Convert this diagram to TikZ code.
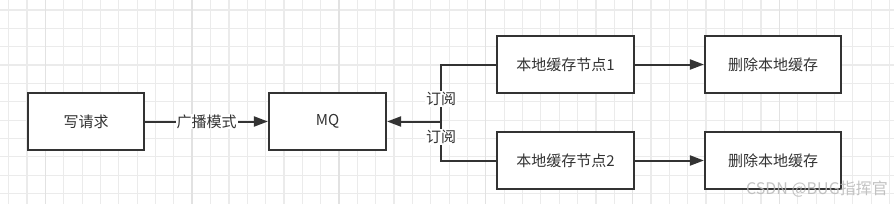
\documentclass[tikz,border=0pt]{standalone}
\usepackage{fontspec}
\newfontfamily\cjk{Noto Sans CJK SC}
\usetikzlibrary{arrows.meta}
\definecolor{ink}{HTML}{333333}
\definecolor{gridminor}{HTML}{EBEBEB}
\definecolor{gridmajor}{HTML}{E2E2E2}
\definecolor{wmark}{HTML}{B8B8B8}
\tikzset{
  box/.style={draw=ink, line width=2.2pt, fill=white, minimum height=57pt, inner sep=0pt, text=ink, font=\cjk\fontsize{15}{18}\selectfont},
  conn/.style={draw=ink, line width=2pt},
  arr/.style={conn, -{Triangle[length=14pt,width=10pt]}},
  lbl/.style={fill=white, text=ink, inner sep=1pt, font=\cjk\fontsize{15}{18}\selectfont},
  gridl/.style={draw=gridminor, line width=1.2pt},
  gridM/.style={draw=gridmajor, line width=1.3pt}
}
\begin{document}
\begin{tikzpicture}[x=1pt,y=-1pt]
\useasboundingbox (0,0) rectangle (894,204);
\fill[white] (0,0) rectangle (894,204);
% grid
\foreach \i in {0,...,48} {
  \draw[gridl] ({8.7+18.35*\i},0) -- ({8.7+18.35*\i},204);
}
\foreach \j in {0,...,10} {
  \draw[gridl] (0,{10+18.35*\j}) -- (894,{10+18.35*\j});
}
\foreach \i in {0,...,6} {
  \draw[gridM] ({45.3+146.8*\i},0) -- ({45.3+146.8*\i},204);
}
% nodes
\node[box, minimum width=116pt] (req) at (86,121.5) {写请求};
\node[box, minimum width=117pt] (mq) at (327.5,121.5) {MQ};
\node[box, minimum width=137pt] (n1) at (565.5,64.5) {本地缓存节点1};
\node[box, minimum width=137pt] (n2) at (565.5,160.5) {本地缓存节点2};
\node[box, minimum width=136pt] (d1) at (773,64.5) {删除本地缓存};
\node[box, minimum width=136pt] (d2) at (773,160.5) {删除本地缓存};
\coordinate (J) at (441,121.5);
% connectors
\draw[arr] (req) -- node[lbl] {广播模式} (mq);
\draw[conn] (n1.west) -| (J) node[lbl, pos=0.8] {订阅};
\draw[conn] (n2.west) -| (J) node[lbl, pos=0.8] {订阅};
\draw[arr] (J) -- (mq.east);
\draw[arr] (n1) -- (d1);
\draw[arr] (n2) -- (d2);
% watermark
\node[text=wmark, opacity=0.85, font=\cjk\fontsize{16}{18}\selectfont, anchor=east, inner sep=0pt] (wm) at (888,189) {CSDN @BUG指挥官};
\end{tikzpicture}
\end{document}
